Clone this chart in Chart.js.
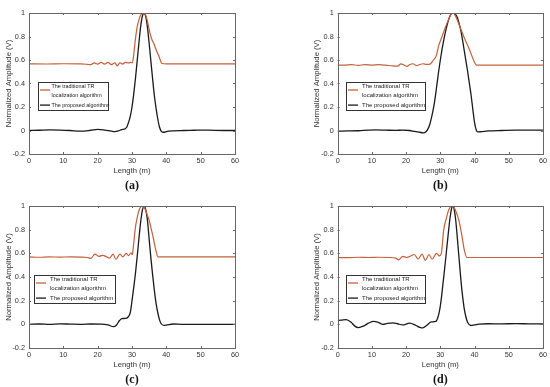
<!DOCTYPE html>
<html>
<head>
<meta charset="utf-8">
<script src="https://cdn.jsdelivr.net/npm/chart.js@4.4.0/dist/chart.umd.min.js"></script>
<style>
  body { margin: 0; background: #fff; }
  .panel { position: absolute; }
</style>
</head>
<body>
<div class="panel" style="left:0;top:0"><canvas id="ca" width="275" height="193"></canvas></div>
<div class="panel" style="left:275px;top:0"><canvas id="cb" width="275" height="193"></canvas></div>
<div class="panel" style="left:0;top:193px"><canvas id="cc" width="275" height="194"></canvas></div>
<div class="panel" style="left:275px;top:193px"><canvas id="cd" width="275" height="194"></canvas></div>
<script>
// tick values / labels
const xTicks = [0, 10, 20, 30, 40, 50, 60];
const xTickLabels = ['0', '10', '20', '30', '40', '50', '60'];
const yTicks = [-0.2, 0, 0.2, 0.4, 0.6, 0.8, 1];
const yTickLabels = ['-0.2', '0', '0.2', '0.4', '0.6', '0.8', '1'];

const seriesNames = ['The traditional TR localization algorithm', 'The proposed algorithm'];
const legendLines = [['The traditional TR', 'localization algorithm'], ['The proposed algorithm']];
const panelLabels = ['(a)', '(b)', '(c)', '(d)'];

// (a)
const aTrX = [0, 5, 10, 15, 17, 18, 19, 20, 21, 22, 23, 24, 25, 25.7, 26.5, 27.3, 28, 29, 29.7, 30, 30.3, 31, 31.5, 32, 32.5, 33, 33.4, 34, 34.5, 35, 35.5, 36, 36.3, 37, 38, 38.7, 40, 60];
const aTrY = [0.567, 0.566, 0.568, 0.567, 0.563, 0.56, 0.575, 0.565, 0.58, 0.565, 0.58, 0.56, 0.575, 0.55, 0.575, 0.565, 0.58, 0.575, 0.58, 0.575, 0.6, 0.78, 0.88, 0.94, 0.98, 0.998, 1.0, 0.98, 0.93, 0.86, 0.8, 0.76, 0.745, 0.69, 0.62, 0.57, 0.567, 0.567];
const aPrX = [0, 3, 6, 9, 12, 15, 18, 20, 22, 24, 25, 26, 27, 28, 28.5, 29, 29.5, 30, 30.5, 31, 31.5, 32, 32.5, 33, 33.5, 34, 34.5, 35, 35.5, 36, 36.5, 37, 37.5, 38, 38.5, 39, 39.5, 40, 42, 45, 48, 51, 54, 57, 60];
const aPrY = [0, 0.002, 0.005, 0.004, 0, -0.006, 0.002, 0.01, 0.004, -0.006, -0.01, -0.004, 0.008, 0.015, 0.03, 0.07, 0.12, 0.2, 0.31, 0.44, 0.59, 0.74, 0.88, 0.97, 1.0, 0.97, 0.88, 0.74, 0.59, 0.44, 0.3, 0.19, 0.1, 0.03, -0.005, -0.015, -0.015, -0.01, -0.003, 0, 0.002, 0.004, 0.001, 0, 0];

// (b)
const bTrX = [0, 2, 4, 6, 8, 10, 12, 14, 16, 17.5, 18.5, 19.5, 20.3, 21, 22, 23, 24, 25, 26, 27, 28, 28.8, 29.5, 30.5, 31.5, 32.5, 33.2, 33.8, 34.5, 35.5, 37, 38.5, 40, 40.6, 60];
const bTrY = [0.556, 0.556, 0.56, 0.555, 0.56, 0.557, 0.56, 0.556, 0.55, 0.548, 0.567, 0.555, 0.545, 0.56, 0.568, 0.553, 0.562, 0.568, 0.563, 0.565, 0.6, 0.635, 0.72, 0.8, 0.88, 0.95, 0.99, 1.0, 0.97, 0.9, 0.79, 0.69, 0.58, 0.556, 0.556];
const bPrX = [0, 3, 6, 9, 11, 14, 17, 19, 21, 22.5, 24, 25, 25.8, 26.5, 27, 27.5, 28, 28.5, 29, 29.5, 30, 30.5, 31, 31.5, 32, 32.5, 33, 33.8, 34.5, 35, 35.5, 36, 36.5, 37, 37.5, 38, 38.5, 39, 39.5, 40, 40.5, 41, 42, 44, 48, 52, 60];
const bPrY = [-0.005, -0.004, -0.002, 0.003, 0.005, 0.003, 0.001, 0.003, 0, -0.008, -0.015, -0.02, -0.01, 0.02, 0.06, 0.12, 0.19, 0.28, 0.39, 0.5, 0.6, 0.69, 0.77, 0.84, 0.9, 0.95, 0.985, 1.0, 0.985, 0.96, 0.91, 0.85, 0.77, 0.68, 0.59, 0.5, 0.4, 0.3, 0.18, 0.07, 0.005, -0.012, -0.01, -0.004, 0, 0.003, 0.003];

// (c)
const cTrX = [0, 3, 6, 9, 12, 15, 17, 18, 19.2, 20.3, 21.5, 22.5, 23.5, 24.5, 25.3, 26.5, 27.3, 28.3, 29, 29.7, 30.1, 30.3, 31, 31.5, 32, 32.5, 33, 33.5, 34, 34.5, 35, 35.5, 36.2, 37, 37.6, 40, 60];
const cTrY = [0.57, 0.567, 0.57, 0.568, 0.57, 0.568, 0.565, 0.557, 0.594, 0.575, 0.583, 0.572, 0.56, 0.594, 0.55, 0.594, 0.57, 0.6, 0.58, 0.605, 0.59, 0.63, 0.82, 0.9, 0.96, 0.99, 1.0, 0.99, 0.96, 0.92, 0.88, 0.82, 0.73, 0.62, 0.57, 0.57, 0.57];
const cPrX = [0, 3, 6, 9, 12, 15, 18, 21, 23, 24.6, 25.5, 26.3, 27, 28, 28.8, 29.5, 30, 30.5, 31, 31.5, 32, 32.5, 33, 33.5, 34, 34.5, 35, 35.5, 36, 36.5, 37, 37.5, 38, 38.5, 39.3, 40, 42, 45, 50, 55, 60];
const cPrY = [0, 0.003, 0, 0.004, 0.002, 0, 0.003, 0.002, -0.005, -0.02, -0.005, 0.03, 0.048, 0.05, 0.06, 0.1, 0.2, 0.31, 0.43, 0.57, 0.72, 0.86, 0.96, 1.0, 0.97, 0.88, 0.72, 0.56, 0.42, 0.29, 0.18, 0.1, 0.04, 0.005, -0.008, -0.006, 0.003, 0, 0, 0, 0];

// (d)
const dTrX = [0, 3, 6, 9, 12, 15, 17, 17.8, 19, 20.2, 21, 22.4, 23.5, 24.7, 25.6, 26.7, 27.6, 28.9, 29.7, 30.3, 31, 31.8, 32.5, 33.6, 34.5, 35.5, 36.3, 37, 37.8, 40, 60];
const dTrY = [0.565, 0.563, 0.567, 0.565, 0.567, 0.565, 0.56, 0.545, 0.575, 0.565, 0.573, 0.59, 0.552, 0.594, 0.54, 0.59, 0.55, 0.6, 0.578, 0.6, 0.8, 0.9, 0.97, 1.0, 0.96, 0.87, 0.75, 0.63, 0.565, 0.565, 0.565];
const dPrX = [0, 1, 2.5, 4, 5, 6.1, 7.5, 9, 10.5, 12, 13.2, 14.5, 16.1, 17.5, 19, 21, 22.9, 24, 24.9, 26, 27.3, 28.7, 29.3, 29.8, 30.3, 30.8, 31.3, 31.8, 32.3, 32.8, 33.3, 33.6, 34, 34.5, 35, 35.5, 36, 36.5, 37, 37.5, 38, 38.9, 40, 41.3, 44, 48, 52, 56, 60];
const dPrY = [0.033, 0.035, 0.04, 0.015, -0.015, -0.027, -0.015, 0.01, 0.025, 0.015, 0, 0.008, 0.013, 0.005, -0.005, 0.01, -0.01, -0.025, -0.03, -0.01, 0.02, 0.025, 0.06, 0.12, 0.22, 0.35, 0.48, 0.62, 0.76, 0.89, 0.98, 1.0, 0.98, 0.88, 0.72, 0.55, 0.38, 0.24, 0.13, 0.06, 0.015, -0.01, -0.005, 0.002, 0.005, 0.004, 0.006, 0.004, 0.003];

const redColor = '#c4603a';
const blackColor = '#1a1a1a';

function pts(xs, ys) {
  return xs.map((x, i) => ({ x: x, y: ys[i] }));
}

// box around plot + inward tick marks (matlab style)
const frame = {
  id: 'frame',
  afterDatasetsDraw(chart) {
    const ctx = chart.ctx, a = chart.chartArea;
    const xs = chart.scales.x, ys = chart.scales.y;
    ctx.save();
    ctx.strokeStyle = '#666';
    ctx.lineWidth = 1;
    ctx.strokeRect(Math.round(a.left) + 0.5, Math.round(a.top) + 0.5, Math.round(a.right - a.left), Math.round(a.bottom - a.top));
    ctx.beginPath();
    xTicks.forEach(v => {
      const px = Math.round(xs.getPixelForValue(v)) + 0.5;
      ctx.moveTo(px, a.bottom); ctx.lineTo(px, a.bottom - 2);
      ctx.moveTo(px, a.top); ctx.lineTo(px, a.top + 2);
    });
    yTicks.forEach(v => {
      const py = Math.round(ys.getPixelForValue(v)) + 0.5;
      ctx.moveTo(a.left, py); ctx.lineTo(a.left + 2, py);
      ctx.moveTo(a.right, py); ctx.lineTo(a.right - 2, py);
    });
    ctx.stroke();
    ctx.restore();
  }
};

// legend drawn inside the plot area
const insideLegend = {
  id: 'insideLegend',
  afterDraw(chart, args, opts) {
    const ctx = chart.ctx, a = chart.chartArea;
    const x0 = Math.round(a.left + opts.left), y0 = Math.round(a.top + opts.top);
    ctx.save();
    ctx.fillStyle = '#fff';
    ctx.fillRect(x0, y0, opts.width, opts.height);
    ctx.strokeStyle = '#333';
    ctx.lineWidth = 1;
    ctx.strokeRect(x0 + 0.5, y0 + 0.5, opts.width, opts.height);
    ctx.font = opts.size + 'px "Liberation Sans", Arial, sans-serif';
    ctx.textBaseline = 'middle';
    let y = y0 + 4.5;
    chart.data.datasets.forEach((ds, i) => {
      const lines = legendLines[i];
      const sy = lines.length > 1 ? y + 3.5 : y;
      ctx.strokeStyle = ds.borderColor;
      ctx.lineWidth = 1.3;
      ctx.beginPath();
      ctx.moveTo(x0 + 2, sy); ctx.lineTo(x0 + 12, sy);
      ctx.stroke();
      ctx.fillStyle = '#222';
      lines.forEach(t => {
        ctx.fillText(t, x0 + opts.textLeft, y);
        y += 9.3;
      });
    });
    ctx.restore();
  }
};

function makeChart(id, label, trX, trY, prX, prY, padLeft, padRight, legendOpts) {
  return new Chart(document.getElementById(id), {
    type: 'line',
    data: {
      datasets: [
        { label: seriesNames[0], data: pts(trX, trY), borderColor: redColor, borderWidth: 1.2, pointRadius: 0, cubicInterpolationMode: 'monotone' },
        { label: seriesNames[1], data: pts(prX, prY), borderColor: blackColor, borderWidth: 1.3, pointRadius: 0, cubicInterpolationMode: 'monotone' }
      ]
    },
    options: {
      responsive: false,
      animation: false,
      layout: { padding: { left: padLeft, right: padRight, top: 13, bottom: 0 } },
      scales: {
        x: {
          type: 'linear', min: 0, max: 60,
          afterBuildTicks: s => { s.ticks = xTicks.map(v => ({ value: v })); },
          afterFit: s => { s.height = 24; },
          grid: { display: false, drawTicks: false },
          border: { display: false },
          ticks: { padding: 3, autoSkip: false, maxRotation: 0, color: '#333', font: { family: 'Liberation Sans', size: 7.3 },
            callback: (v, i) => xTickLabels[i] },
          title: { display: true, text: 'Length (m)', color: '#333', padding: { top: 0, bottom: 2 }, font: { family: 'Liberation Sans', size: 7.7 } }
        },
        y: {
          min: -0.2, max: 1,
          afterBuildTicks: s => { s.ticks = yTicks.map(v => ({ value: v })); },
          afterFit: s => { s.width = 29; },
          grid: { display: false, drawTicks: false },
          border: { display: false },
          ticks: { padding: 4, color: '#333', font: { family: 'Liberation Sans', size: 7.3 },
            callback: (v, i) => yTickLabels[i] },
          title: { display: true, text: 'Normalized Amplitude (V)', color: '#333', padding: { top: 4, bottom: 0 }, font: { family: 'Liberation Sans', size: 7.7 } }
        }
      },
      plugins: {
        legend: { display: false },
        tooltip: { enabled: false },
        title: { display: true, text: label, position: 'bottom', fullSize: false, color: '#111', padding: { top: 0, bottom: 0 },
          font: { family: 'Liberation Serif', size: 12, weight: 'bold', lineHeight: 1.25 } },
        insideLegend: legendOpts
      }
    },
    plugins: [frame, insideLegend]
  });
}

makeChart('ca', panelLabels[0], aTrX, aTrY, aPrX, aPrY, 0, 40, { left: 9, top: 69, width: 70, height: 28, size: 5.4, textLeft: 13.5 });
makeChart('cb', panelLabels[1], bTrX, bTrY, bPrX, bPrY, 33.7, 6.3, { left: 8, top: 69, width: 79, height: 28, size: 6, textLeft: 16 });
makeChart('cc', panelLabels[2], cTrX, cTrY, cPrX, cPrY, 0, 40, { left: 5.3, top: 69, width: 81, height: 28, size: 6, textLeft: 16 });
makeChart('cd', panelLabels[3], dTrX, dTrY, dPrX, dPrY, 33.7, 6.3, { left: 8, top: 69, width: 79, height: 28, size: 6, textLeft: 16 });
</script>
</body>
</html>
